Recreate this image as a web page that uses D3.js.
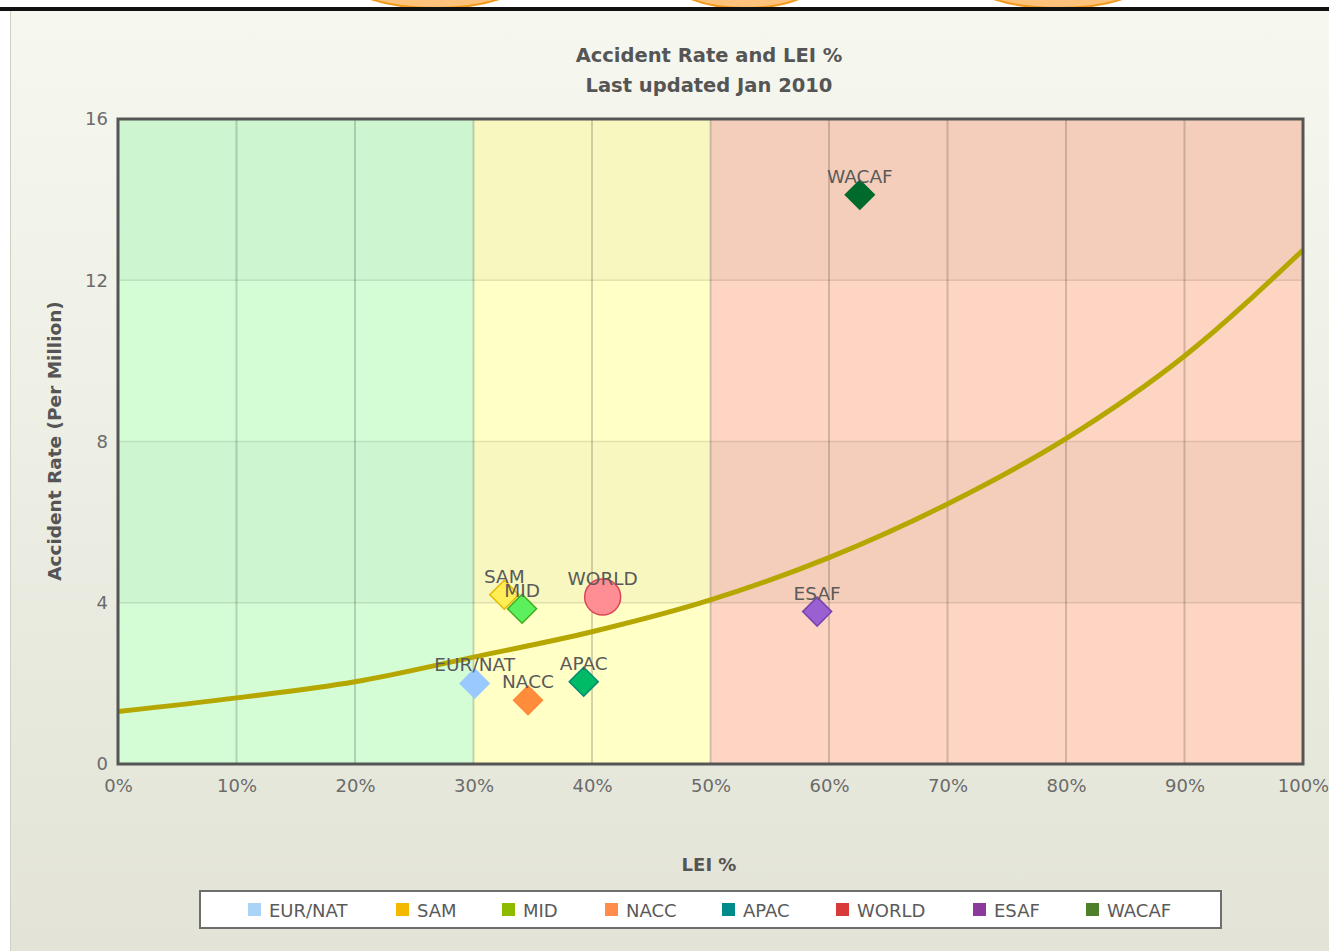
<!DOCTYPE html>
<html><head><meta charset="utf-8">
<script src="https://cdn.jsdelivr.net/npm/d3@7"></script>
<style>
html,body{margin:0;padding:0;background:#fff;}
svg{display:block;}
text{font-family:"DejaVu Sans",Verdana,sans-serif;}
</style></head>
<body><svg id="c" width="1329" height="951"></svg>
<script>
// ---- data ----
const regions = ["EUR/NAT","SAM","MID","NACC","APAC","WORLD","ESAF","WACAF"];
const leiValues = [30.1, 32.6, 34.1, 34.6, 39.3, 40.9, 59.0, 62.6];
const rateValues = [2.00, 4.20, 3.85, 1.58, 2.04, 4.14, 3.78, 14.12];
const pointShapes = ["diamond","diamond","diamond","diamond","diamond","circle","diamond","diamond"];
const pointFills = ["#99c9ff","#ffee55","#5cf05c","#ff8c3a","#00bb66","#ff8e94","#9a5fd0","#006a2c"];
const pointStrokes = ["#99c9ff","#e8b800","#3fae20","#ff8c3a","#00897a","#d9485a","#7a44b0","#006a2c"];
const legendColors = ["#aad3f8","#f5b800","#8cbb00","#ff8c4a","#008b8b","#d83a3a","#8b3a9b","#4e7f2a"];
const curveLEI = [0,10,20,30,40,50,60,70,80,90,100];
const curveRate = [1.30,1.64,2.04,2.65,3.28,4.07,5.12,6.45,8.07,10.12,12.75];
const zoneStarts = [0,30,50];
const zoneEnds = [30,50,100];
const zoneColors = ["#d4fdd6","#ffffc6","#fdd5c2"];
const xTicks = [0,10,20,30,40,50,60,70,80,90,100];
const yTicks = [0,4,8,12,16];

const svg = d3.select("#c");
const W=1329,H=951;

// ---- page background ----
const defs = svg.append("defs");
const bg = defs.append("linearGradient").attr("id","bg").attr("x1",0).attr("y1",0).attr("x2",0).attr("y2",1);
bg.append("stop").attr("offset","0%").attr("stop-color","#f6f7ef");
bg.append("stop").attr("offset","100%").attr("stop-color","#e3e4d7");
svg.append("rect").attr("x",0).attr("y",0).attr("width",W).attr("height",H).attr("fill","#fff");
svg.append("rect").attr("x",10).attr("y",11).attr("width",W-10).attr("height",H-11).attr("fill","url(#bg)");
svg.append("line").attr("x1",10.5).attr("x2",10.5).attr("y1",11).attr("y2",H).attr("stroke","#cfd0c6").attr("stroke-width",1);
// top decorative tabs
[[435,90],[745,75],[1058,90]].forEach(([cx,rx])=>{
  svg.append("ellipse").attr("cx",cx).attr("cy",-22).attr("rx",rx).attr("ry",30)
    .attr("fill","#ffc27a").attr("stroke","#f29a1e").attr("stroke-width",2);
});
svg.append("rect").attr("x",0).attr("y",7).attr("width",W).attr("height",4).attr("fill","#111");

// ---- scales ----
const x = d3.scaleLinear().domain([0,100]).range([118,1303]);
const y = d3.scaleLinear().domain([0,16]).range([764,119]);

const plot = svg.append("g");
// zones
plot.selectAll("rect.zone").data(zoneStarts).enter().append("rect")
  .attr("x",(d)=>x(d)).attr("y",y(16))
  .attr("width",(d,i)=>x(zoneEnds[i])-x(d)).attr("height",y(0)-y(16))
  .attr("fill",(d,i)=>zoneColors[i]);
// alternating horizontal bands
[[12,16],[4,8]].forEach(([a,b])=>{
  plot.append("rect").attr("x",x(0)).attr("y",y(b)).attr("width",x(100)-x(0)).attr("height",y(a)-y(b))
    .attr("fill","#000").attr("opacity",0.033);
});
// grid
plot.selectAll("line.hg").data([4,8,12]).enter().append("line")
  .attr("x1",x(0)).attr("x2",x(100)).attr("y1",d=>y(d)).attr("y2",d=>y(d))
  .attr("stroke","#000").attr("stroke-opacity",0.1).attr("stroke-width",1.5);
plot.selectAll("line.vg").data(xTicks.slice(1,-1)).enter().append("line")
  .attr("x1",d=>x(d)).attr("x2",d=>x(d)).attr("y1",y(16)).attr("y2",y(0))
  .attr("stroke","#000").attr("stroke-opacity",0.17).attr("stroke-width",2);

// curve
const line = d3.line().x((d,i)=>x(curveLEI[i])).y((d,i)=>y(d)).curve(d3.curveMonotoneX);
plot.append("path").datum(curveRate).attr("d",line)
  .attr("fill","none").attr("stroke","#b5a700").attr("stroke-width",5);

// frame
plot.append("rect").attr("x",x(0)).attr("y",y(16)).attr("width",x(100)-x(0)).attr("height",y(0)-y(16))
  .attr("fill","none").attr("stroke","#555").attr("stroke-width",3);

// axes
const xAxis = d3.axisBottom(x).tickValues(xTicks).tickFormat(d=>d+"%").tickSize(0).tickPadding(15);
const gx = svg.append("g").attr("transform",`translate(0,${y(0)})`).call(xAxis);
gx.select(".domain").remove();
gx.selectAll("text").attr("font-size",18).attr("fill","#6b6b6b").attr("font-family","DejaVu Sans, Verdana, sans-serif");
const yAxis = d3.axisLeft(y).tickValues(yTicks).tickSize(0).tickPadding(10);
const gy = svg.append("g").attr("transform",`translate(${x(0)},0)`).call(yAxis);
gy.select(".domain").remove();
gy.selectAll("text").attr("font-size",18).attr("fill","#6b6b6b").attr("font-family","DejaVu Sans, Verdana, sans-serif");

// points
const pts = svg.append("g");
regions.forEach((r,i)=>{
  const px=x(leiValues[i]), py=y(rateValues[i]);
  if(pointShapes[i]==="circle"){
    pts.append("circle").attr("cx",px).attr("cy",py).attr("r",18)
      .attr("fill",pointFills[i]).attr("stroke",pointStrokes[i]).attr("stroke-width",1.5);
  } else {
    const s=14.5;
    pts.append("path").attr("d",`M${px},${py-s}L${px+s},${py}L${px},${py+s}L${px-s},${py}Z`)
      .attr("fill",pointFills[i]).attr("stroke",pointStrokes[i]).attr("stroke-width",1.5);
  }
});
// labels
regions.forEach((r,i)=>{
  const px=x(leiValues[i]), py=y(rateValues[i]);
  pts.append("text").attr("x",px).attr("y",py-12).attr("text-anchor","middle")
    .attr("font-size",18.5).attr("fill","#5a5a5a").text(r);
});

// titles
svg.append("text").attr("x",709).attr("y",62).attr("text-anchor","middle")
  .attr("font-size",19.5).attr("font-weight","bold").attr("fill","#555").text("Accident Rate and LEI %");
svg.append("text").attr("x",709).attr("y",92).attr("text-anchor","middle")
  .attr("font-size",19.5).attr("font-weight","bold").attr("fill","#555").text("Last updated Jan 2010");
svg.append("text").attr("transform","translate(61,441) rotate(-90)").attr("text-anchor","middle")
  .attr("font-size",18.5).attr("font-weight","bold").attr("fill","#555").text("Accident Rate (Per Million)");
svg.append("text").attr("x",709).attr("y",871).attr("text-anchor","middle")
  .attr("font-size",18).attr("font-weight","bold").attr("fill","#555").text("LEI %");

// legend
const lg = svg.append("g");
lg.append("rect").attr("x",200).attr("y",891).attr("width",1021).attr("height",37)
  .attr("fill","#fff").attr("stroke","#6e6e6e").attr("stroke-width",2);
const legendX = [248,396,502,605,722,836,973,1086];
regions.forEach((r,i)=>{
  lg.append("rect").attr("x",legendX[i]).attr("y",903).attr("width",13).attr("height",13).attr("fill",legendColors[i]);
  lg.append("text").attr("x",legendX[i]+21).attr("y",917).attr("font-size",18).attr("fill","#5a5a5a").text(r);
});
</script></body></html>
